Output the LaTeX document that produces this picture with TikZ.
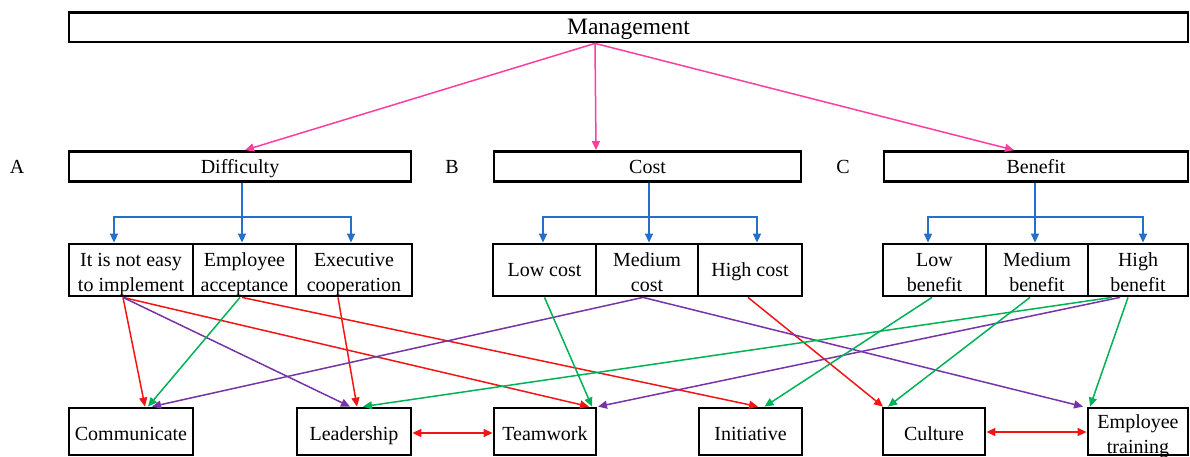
\documentclass[tikz,border=0pt]{standalone}
\usepackage{fontspec}
\setmainfont{Liberation Serif}
\usetikzlibrary{calc,arrows.meta}

\definecolor{mgmtpink}{RGB}{255,62,160}
\definecolor{treeblue}{RGB}{35,112,205}
\definecolor{linkred}{RGB}{245,20,20}
\definecolor{linkgreen}{RGB}{0,178,85}
\definecolor{linkpurple}{RGB}{118,52,168}

\tikzset{
  box/.style={draw=black, line width=2.8pt, rectangle, inner sep=0pt,
              align=center, font=\fontsize{20}{25}\selectfont},
  % vertical placement of the text inside the boxes
  headtext/.style={text height=15pt, text depth=0pt},
  midtext/.style={text height=13.4pt, text depth=0pt},
  pairtext/.style={text height=42pt, text depth=0pt},
  foottext/.style={text height=17pt, text depth=0pt},
  tag/.style={inner sep=0pt, font=\fontsize{20}{25}\selectfont},
  tip/.style={-{Triangle[length=9pt,width=8pt]}},
  link/.style={line width=1.5pt, tip},
  pinklink/.style={link, draw=mgmtpink},
  bluelink/.style={link, draw=treeblue},
  redlink/.style={link, draw=linkred},
  greenlink/.style={link, draw=linkgreen},
  purplelink/.style={link, draw=linkpurple},
  twoway/.style={line width=1.5pt, draw=linkred,
    {Triangle[length=9pt,width=8pt]}-{Triangle[length=9pt,width=8pt]}},
}

\begin{document}
\begin{tikzpicture}[x=1pt, y=-1pt]
\useasboundingbox (0,0) rectangle (1190,457);

% top level
\node[box, minimum width=1119pt, minimum height=29.5pt, text height=15.5pt, text depth=0pt,
      font=\fontsize{23.5}{28}\selectfont] (mgmt) at (628.5,27.25) {Management};

% category labels
\node[tag] (la) at (17,167) {A};
\node[tag] (lb) at (452,167) {B};
\node[tag] (lc) at (843,167) {C};

% categories
\node[box, headtext, minimum width=342pt, minimum height=30pt] (diff) at (240,166.5) {Difficulty};
\node[box, headtext, minimum width=307pt, minimum height=30pt] (cost) at (647.5,166.5) {Cost};
\node[box, headtext, minimum width=304pt, minimum height=30pt] (bene) at (1036,166.5) {Benefit};

% sub-factors
\node[box, pairtext, minimum width=124pt, minimum height=52pt] (d1) at (131,270) {It is not easy\\to implement};
\node[box, pairtext, minimum width=103pt, minimum height=52pt] (d2) at (244.5,270) {Employee\\acceptance};
\node[box, pairtext, minimum width=116pt, minimum height=52pt] (d3) at (354,270) {Executive\\cooperation};

\node[box, midtext, minimum width=103pt, minimum height=52pt] (c1) at (544.5,270) {Low cost};
\node[box, pairtext, minimum width=102pt, minimum height=52pt] (c2) at (647,270) {Medium\\cost};
\node[box, midtext, minimum width=104pt, minimum height=52pt] (c3) at (750,270) {High cost};

\node[box, pairtext, minimum width=103pt, minimum height=52pt] (b1) at (934.5,270) {Low\\benefit};
\node[box, pairtext, minimum width=102pt, minimum height=52pt] (b2) at (1037,270) {Medium\\benefit};
\node[box, pairtext, minimum width=100pt, minimum height=52pt] (b3) at (1138,270) {High\\benefit};

% outcomes
\node[box, foottext, minimum width=124pt, minimum height=47pt] (comm) at (131,431.5) {Communicate};
\node[box, foottext, minimum width=114pt, minimum height=47pt] (lead) at (354,431.5) {Leadership};
\node[box, foottext, minimum width=102pt, minimum height=47pt] (team) at (545,431.5) {Teamwork};
\node[box, foottext, minimum width=103pt, minimum height=47pt] (init) at (750.5,431.5) {Initiative};
\node[box, foottext, minimum width=102pt, minimum height=47pt] (cult) at (934,431.5) {Culture};
\node[box, text height=43.5pt, text depth=0pt, minimum width=100pt, minimum height=47pt] (emp) at (1138,431.5) {Employee\\training};

% management to categories
\draw[pinklink] ($(mgmt.south)+(-33.5,0)$) -- ($(diff.north)+(5,0)$);
\draw[pinklink] ($(mgmt.south)+(-33.5,0)$) -- ($(cost.north)+(-51.5,0)$);
\draw[pinklink] ($(mgmt.south)+(-33.5,0)$) -- ($(bene.north)+(-22,0)$);

% categories to sub-factors
\draw[bluelink] ($(diff.south)+(2,0)$) -- ($(d2.north)+(-2.5,0)$);
\draw[bluelink] ($(diff.south)+(2,34)$) -| ($(d1.north)+(-17,0)$);
\draw[bluelink] ($(diff.south)+(2,34)$) -| ($(d3.north)+(-3,0)$);

\draw[bluelink] ($(cost.south)+(1.5,0)$) -- ($(c2.north)+(2,0)$);
\draw[bluelink] ($(cost.south)+(1.5,34)$) -| ($(c1.north)+(-1.5,0)$);
\draw[bluelink] ($(cost.south)+(1.5,34)$) -| ($(c3.north)+(7,0)$);

\draw[bluelink] ($(bene.south)+(-1,0)$) -- ($(b2.north)+(-2,0)$);
\draw[bluelink] ($(bene.south)+(-1,34)$) -| ($(b1.north)+(-6.5,0)$);
\draw[bluelink] ($(bene.south)+(-1,34)$) -| ($(b3.north)+(5,0)$);

% red links
\draw[redlink] ($(d1.south)+(-8,0)$) -- ($(comm.north)+(14,0)$);
\draw[redlink] ($(d1.south)+(-8,0)$) -- ($(team.north)+(44,0)$);
\draw[redlink] ($(d2.south)+(-2.5,0)$) -- ($(init.north)+(7.5,0)$);
\draw[redlink] ($(d3.south)+(-16,0)$) -- ($(lead.north)+(3,0)$);
\draw[redlink] ($(c3.south)+(-2,0)$) -- ($(cult.north)+(-51,0)$);

% purple links
\draw[purplelink] ($(d1.south)+(-8,0)$) -- ($(lead.north)+(-4,0)$);
\draw[purplelink] ($(c2.south)+(-4,0)$) -- ($(comm.north)+(21,0)$);
\draw[purplelink] ($(c2.south)+(-4,0)$) -- ($(emp.north)+(-55,0)$);
\draw[purplelink] ($(b3.south)+(-18,0)$) -- ($(team.north)+(53,0)$);

% green links
\draw[greenlink] ($(d2.south)+(-4.5,0)$) -- ($(comm.north)+(17,0)$);
\draw[greenlink] ($(c1.south)+(0,0)$) -- ($(team.north)+(47,0)$);
\draw[greenlink] ($(b3.south)+(-26,0)$) -- ($(lead.north)+(9,0)$);
\draw[greenlink] ($(b1.south)+(-2.5,0)$) -- ($(init.north)+(14,0)$);
\draw[greenlink] ($(b2.south)+(-7,0)$) -- ($(cult.north)+(-46,0)$);
\draw[greenlink] ($(b3.south)+(-10,0)$) -- ($(emp.north)+(-48,0)$);

% mutual links between outcomes
\draw[twoway] ($(lead.east)+(0,1.5)$) -- ($(team.west)+(0,1.5)$);
\draw[twoway] ($(cult.east)+(0,0.5)$) -- ($(emp.west)+(0,0.5)$);
\end{tikzpicture}
\end{document}
